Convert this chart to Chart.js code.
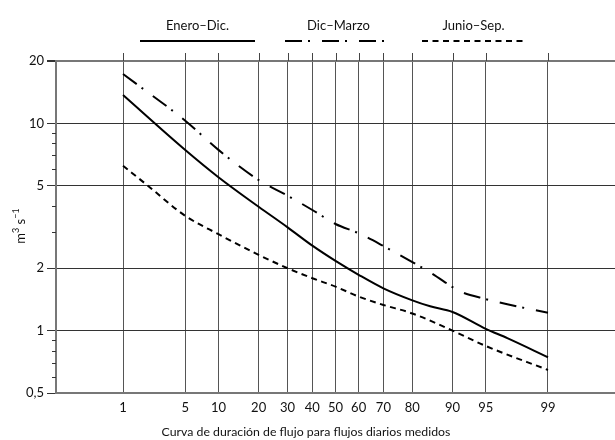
<!DOCTYPE html>
<html>
<head>
<meta charset="utf-8">
<script src="https://cdn.jsdelivr.net/npm/chart.js@4"></script>
<style>
  body { margin: 0; background: #fff; }
  canvas { display: block; }
</style>
</head>
<body>
<canvas id="myChart" width="615" height="440"></canvas>
<script>
'use strict';

// percent of time flow is equalled or exceeded
let enePct = [1, 5, 10, 20, 30, 40, 50, 60, 70, 80, 85, 90, 95, 97, 99];
let eneFlow = [13.7, 7.44, 5.5, 3.96, 3.15, 2.57, 2.17, 1.86, 1.60, 1.40, 1.31, 1.23, 1.02, 0.92, 0.744];

let dicPct = [1, 5, 10, 20, 30, 40, 50, 60, 70, 80, 85, 90, 91, 95, 97, 99];
let dicFlow = [17.3, 10.3, 7.45, 5.33, 4.48, 3.82, 3.27, 2.95, 2.56, 2.14, 1.91, 1.62, 1.56, 1.42, 1.34, 1.22];

let junPct = [1, 2, 5, 10, 20, 30, 40, 50, 60, 70, 80, 90, 95, 99];
let junFlow = [6.25, 5.0, 3.58, 2.92, 2.32, 2.0, 1.79, 1.63, 1.46, 1.33, 1.21, 1.0, 0.843, 0.646];

let seriesNames = ['Enero–Dic.', 'Dic–Marzo', 'Junio–Sep.'];

let xTicks = [1, 5, 10, 20, 30, 40, 50, 60, 70, 80, 90, 95, 99];
let yTicks = [0.5, 1, 2, 5, 10, 20];
let yMinorTicks = [0.6, 0.7, 0.8, 0.9, 3, 4, 6, 7, 8, 9];

let fontName = 'Lato, "Open Sans", sans-serif';

// inverse normal cdf (Acklam) - probability paper x axis
function probit(p) {
  const a = [-3.969683028665376e+01, 2.209460984245205e+02, -2.759285104469687e+02, 1.383577518672690e+02, -3.066479806614716e+01, 2.506628277459239e+00];
  const b = [-5.447609879822406e+01, 1.615858368580409e+02, -1.556989798598866e+02, 6.680131188771972e+01, -1.328068155288572e+01];
  const c = [-7.784894002430293e-03, -3.223964580411365e-01, -2.400758277161838e+00, -2.549732539343734e+00, 4.374664141464968e+00, 2.938163982698783e+00];
  const d = [7.784695709041462e-03, 3.224671290700398e-01, 2.445134137142996e+00, 3.754408661907416e+00];
  const plow = 0.02425;
  let q, r;
  if (p < plow) {
    q = Math.sqrt(-2 * Math.log(p));
    return (((((c[0] * q + c[1]) * q + c[2]) * q + c[3]) * q + c[4]) * q + c[5]) / ((((d[0] * q + d[1]) * q + d[2]) * q + d[3]) * q + 1);
  }
  if (p > 1 - plow) {
    q = Math.sqrt(-2 * Math.log(1 - p));
    return -(((((c[0] * q + c[1]) * q + c[2]) * q + c[3]) * q + c[4]) * q + c[5]) / ((((d[0] * q + d[1]) * q + d[2]) * q + d[3]) * q + 1);
  }
  q = p - 0.5;
  r = q * q;
  return (((((a[0] * r + a[1]) * r + a[2]) * r + a[3]) * r + a[4]) * r + a[5]) * q / (((((b[0] * r + b[1]) * r + b[2]) * r + b[3]) * r + b[4]) * r + 1);
}

function toPoints(pcts, flows) {
  let pts = [];
  for (let i = 0; i < pcts.length; i++) {
    pts.push({ x: probit(pcts[i] / 100), y: flows[i] });
  }
  return pts;
}

function makeDataset(label, pcts, flows, dash) {
  return {
    label: label,
    data: toPoints(pcts, flows),
    borderColor: '#000',
    borderWidth: 2,
    borderDash: dash,
    pointRadius: 0,
    fill: false,
    cubicInterpolationMode: 'monotone'
  };
}

// extra drawing: legend above plot, minor y ticks, tick stubs on top, axis titles
const extras = {
  id: 'extras',
  afterDraw(chart) {
    let ctx = chart.ctx;
    let area = chart.chartArea;
    let xs = chart.scales.x;
    let ys = chart.scales.y;
    ctx.save();

    ctx.strokeStyle = '#444';
    ctx.lineWidth = 1;
    xTicks.forEach(function (p) {
      let x = Math.round(xs.getPixelForValue(probit(p / 100))) + 0.5;
      ctx.beginPath();
      ctx.moveTo(x, area.top - 8);
      ctx.lineTo(x, area.top);
      ctx.stroke();
    });

    ctx.strokeStyle = '#333';
    yMinorTicks.forEach(function (v) {
      let y = Math.round(ys.getPixelForValue(v)) + 0.5;
      ctx.beginPath();
      ctx.moveTo(area.left - 4, y);
      ctx.lineTo(area.left, y);
      ctx.stroke();
    });

    // legend
    let legendPos = [[140, 255], [285, 392], [422, 525]];
    ctx.fillStyle = '#111';
    ctx.font = '13px ' + fontName;
    ctx.textAlign = 'center';
    ctx.textBaseline = 'middle';
    chart.data.datasets.forEach(function (ds, i) {
      let x0 = legendPos[i][0];
      let x1 = legendPos[i][1];
      ctx.fillText(ds.label, (x0 + x1) / 2, 26);
      ctx.strokeStyle = '#000';
      ctx.lineWidth = 2;
      ctx.setLineDash(ds.borderDash);
      ctx.beginPath();
      ctx.moveTo(x0, 41);
      ctx.lineTo(x1, 41);
      ctx.stroke();
    });
    ctx.setLineDash([]);

    ctx.font = '12.3px ' + fontName;
    ctx.fillText('Curva de duración de flujo para flujos diarios medidos', 306, 432);

    // y title m3 s-1 with superscripts, rotated
    let parts = [['m', 13, 0], ['3', 9, -6], [' s', 13, 0], ['−1', 9, -6]];
    let total = 0;
    parts.forEach(function (pt) {
      ctx.font = pt[1] + 'px ' + fontName;
      total += ctx.measureText(pt[0]).width;
    });
    ctx.translate(25, 226);
    ctx.rotate(-Math.PI / 2);
    ctx.textAlign = 'left';
    ctx.textBaseline = 'alphabetic';
    let pos = -total / 2;
    parts.forEach(function (pt) {
      ctx.font = pt[1] + 'px ' + fontName;
      ctx.fillText(pt[0], pos, pt[2]);
      pos += ctx.measureText(pt[0]).width;
    });
    ctx.restore();
  }
};

const config = {
  type: 'line',
  data: {
    datasets: [
      makeDataset(seriesNames[0], enePct, eneFlow, []),
      makeDataset(seriesNames[1], dicPct, dicFlow, [17, 6, 2, 12]),
      makeDataset(seriesNames[2], junPct, junFlow, [6, 4.5])
    ]
  },
  options: {
    responsive: false,
    animation: false,
    layout: { padding: { top: 61, right: 0, bottom: 0, left: 0 } },
    plugins: {
      legend: { display: false },
      tooltip: { enabled: false }
    },
    scales: {
      x: {
        type: 'linear',
        min: -3.06,
        max: 3.06,
        afterBuildTicks: function (scale) {
          scale.ticks = xTicks.map(function (p) { return { value: probit(p / 100) }; });
        },
        afterFit: function (scale) { scale.height = 47; },
        grid: { color: '#555', lineWidth: 1, drawTicks: false },
        border: { color: '#777', width: 2 },
        ticks: {
          autoSkip: false,
          maxRotation: 0,
          padding: 7,
          color: '#111',
          font: { family: fontName, size: 13 },
          callback: function (value, index) { return String(xTicks[index]); }
        }
      },
      y: {
        type: 'logarithmic',
        min: 0.5,
        max: 20,
        afterBuildTicks: function (scale) {
          scale.ticks = yTicks.map(function (v) { return { value: v }; });
        },
        afterFit: function (scale) { scale.width = 56; },
        grid: {
          color: function (c) { return c.tick && c.tick.value === 20 ? '#777' : '#333'; },
          lineWidth: function (c) { return c.tick && c.tick.value === 20 ? 2 : 1; },
          tickColor: '#333',
          tickLength: 9
        },
        border: { color: '#777', width: 2 },
        ticks: {
          autoSkip: false,
          padding: 3,
          color: '#111',
          font: { family: fontName, size: 13 },
          callback: function (value) { return value === 0.5 ? '0,5' : String(value); }
        }
      }
    }
  },
  plugins: [extras]
};

const myChart = new Chart(document.getElementById('myChart'), config);
</script>
</body>
</html>
